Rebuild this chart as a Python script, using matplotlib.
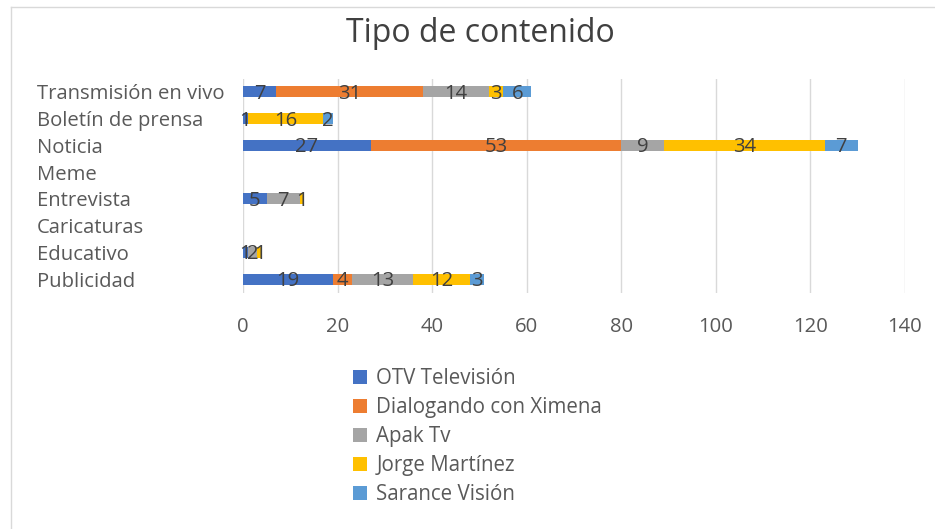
import matplotlib
matplotlib.use("Agg")
import matplotlib.pyplot as plt
from matplotlib.lines import Line2D
import numpy as np

plt.rcParams['font.family'] = ['Open Sans', 'DejaVu Sans']

categories = ["Transmisión en vivo", "Boletín de prensa", "Noticia", "Meme",
              "Entrevista", "Caricaturas", "Educativo", "Publicidad"]
series_names = ["OTV Televisión", "Dialogando con Ximena", "Apak Tv",
                "Jorge Martínez", "Sarance Visión"]
otv = [7, 1, 27, 0, 5, 0, 1, 19]
dialogando = [31, 0, 53, 0, 0, 0, 0, 4]
apak = [14, 0, 9, 0, 7, 0, 2, 13]
jorge = [3, 16, 34, 0, 1, 0, 1, 12]
sarance = [6, 2, 7, 0, 0, 0, 0, 3]
series_values = [otv, dialogando, apak, jorge, sarance]
colors = ["#4472C4", "#ED7D31", "#A5A5A5", "#FFC000", "#5B9BD5"]
xticks = [0, 20, 40, 60, 80, 100, 120, 140]

W, H = 935, 529
fig = plt.figure(figsize=(W / 100, H / 100), dpi=100)

# chart border (top and left visible)
fig.add_artist(Line2D([11 / W, 11 / W], [0, 1 - 7 / H], transform=fig.transFigure,
                      color="#D9D9D9", lw=1))
fig.add_artist(Line2D([11 / W, 1], [1 - 7 / H, 1 - 7 / H], transform=fig.transFigure,
                      color="#D9D9D9", lw=1))

ax = fig.add_axes([243 / W, 1 - 292.5 / H, (905 - 243) / W, (292.5 - 78.5) / H])
y = np.arange(len(categories))
left = np.zeros(len(categories))
txtcol = "#595959"
fs = 14.6
for name, vals, c in zip(series_names, series_values, colors):
    vals = np.array(vals, dtype=float)
    bars = ax.barh(y, vals, left=left, height=0.42, color=c, label=name, zorder=2)
    labels = [str(int(v)) if v > 0 else "" for v in vals]
    texts = ax.bar_label(bars, labels=labels, label_type="center", fontsize=fs,
                         color="#404040", zorder=3)
    for t in texts:
        t.set_y(t.get_position()[1] - 1.5)
    left += vals

ax.set_ylim(len(categories) - 0.5, -0.5)
ax.set_xlim(0, 140)
ax.set_xticks(xticks)
ax.set_xticklabels([str(t) for t in xticks])
ax.set_yticks(y)
ax.set_yticklabels(categories)
for s in ax.spines.values():
    s.set_visible(False)
ax.grid(axis="x", color="#D9D9D9", lw=1, zorder=0)
ax.tick_params(axis="y", length=0, pad=206 * 0.72, labelsize=fs, labelcolor=txtcol)
ax.tick_params(axis="x", length=0, pad=18, labelsize=fs, labelcolor=txtcol)
for lbl in ax.get_yticklabels():
    lbl.set_horizontalalignment("left")

fig.text(480 / W, 1 - 33 / H, "Tipo de contenido", ha="center", va="center",
         fontsize=23, color="#404040")

handles, labs = ax.get_legend_handles_labels()
fig.legend(handles, labs, loc="upper left", bbox_to_anchor=(353 / W, 1 - 368 / H),
           frameon=False, fontsize=14.8, labelcolor=txtcol, handlelength=0.68,
           handleheight=0.68, handletextpad=0.45, labelspacing=0.39, borderpad=0,
           borderaxespad=0)

fig.savefig("out.png", dpi=100)
